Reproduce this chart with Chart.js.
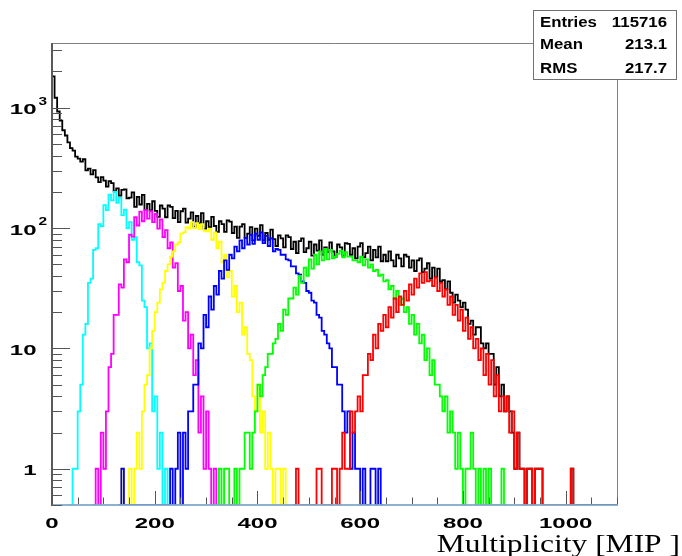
<!DOCTYPE html>
<html>
<head>
<meta charset="utf-8">
<script src="https://cdn.jsdelivr.net/npm/chart.js@4.4.0/dist/chart.umd.min.js"></script>
<style>
  html, body { margin: 0; padding: 0; background: #ffffff; }
  #wrap { width: 682px; height: 556px; }
</style>
</head>
<body>
<div id="wrap"><canvas id="c" width="682" height="556"></canvas></div>
<script>
// Bin width of every histogram, in MIP
const BIN = 5;
const X_MIN = 0, X_MAX = 1100;
const Y_MIN = 0.5, Y_MAX = 3450;

// Axis labels
const xTickValues = [0, 200, 400, 600, 800, 1000];
const yTickValues = [1, 10, 100, 1000];
const yTickBase = ['1', '10', '10', '10'];
const yTickExp = ['', '', '2', '3'];
const axisTitle = 'Multiplicity [MIP ]';

// Statistics box
const statsLabels = ['Entries', 'Mean', 'RMS'];
const statsValues = ['115716', '213.1', '217.7'];

// All events, bins from 0 to 1100
const totalStart = 0;
const total = [
  1820,1210,930,780,650,588,515,462,440,392,378,356,373,302,312,279,303,264,241,265,
  248,221,246,236,202,214,186,208,210,177,179,198,150,182,157,189,141,159,140,167,
  139,124,154,145,123,154,150,121,139,112,138,145,111,120,135,103,126,110,133,99,
  114,102,124,104,93,114,108,93,116,113,91,103,83,103,108,83,90,102,79,99,
  86,106,79,91,80,97,81,71,87,82,69,87,84,67,77,62,78,82,63,68,
  77,59,73,65,79,60,69,63,76,64,58,73,69,59,75,74,60,68,56,70,
  75,57,62,70,54,66,57,70,53,60,53,64,54,48,60,56,48,60,58,47,
  54,44,54,56,43,46,51,38,47,39,46,36,37,31,36,29,24,28,25,22,
  24,21,16,17,13,15,15,11,10,11,9,9,5,7,4,5,3,4,3,2,
  1,2,1,1,0,1,1,0,1,1,1,0,0,0,0,0,0,0,0,0,
  0,0,1,0,0,0,0,0,0,0,0,0,0,0,0,0,0,0,0,0
];

// Event classes
const cyanStart = 35;
const cyan = [
  0,1,1,3,5,13,16,35,38,66,68,108,104,155,141,190,170,200,162,178,
  128,142,100,112,80,84,52,49,25,22,10,11,3,4,1,2,0,1,0
];
const magentaStart = 80;
const magenta = [
  0,1,0,2,1,3,7,9,19,19,34,32,55,52,88,85,123,105,137,114,
  141,120,138,112,131,99,118,84,96,68,76,47,51,30,33,17,20,10,13,6,
  8,2,4,1,3,1,0,1,0
];
const yellowStart = 130;
const yellow = [
  0,1,0,0,1,0,1,2,1,3,5,6,10,14,20,24,31,35,44,50,
  58,64,73,76,90,92,102,99,112,100,110,98,108,95,94,99,80,92,68,77,
  52,60,39,44,27,33,20,24,13,15,9,8,4,3,5,2,3,1,2,1,
  0,1,1,0,1,0
];
const blueStart = 130;
const blue = [
  0,1,0,0,0,0,0,0,0,0,0,0,0,0,0,0,0,0,0,0,
  1,0,1,2,0,2,1,3,3,5,5,11,10,19,15,27,21,33,28,44,
  38,54,45,60,56,70,64,79,68,83,73,88,74,90,80,92,75,86,71,82,
  64,67,66,60,60,55,54,48,48,42,41,36,35,30,29,25,24,19,18,14,
  13,11,10,7,7,5,5,3,2,3,1,2,1,1,0,1,0,0,1,1,
  0,1,0
];
const greenStart = 320;
const green = [
  0,1,0,1,1,0,0,1,0,1,1,2,2,1,2,3,5,4,6,7,
  9,9,11,12,16,14,21,19,26,26,32,28,40,35,47,40,55,46,60,50,
  64,54,67,55,66,56,58,61,65,57,63,58,58,54,54,52,58,49,55,47,
  50,44,45,40,41,36,37,31,33,26,30,23,26,20,22,16,19,13,16,11,
  13,8,10,6,8,5,5,4,3,4,2,3,2,1,2,1,0,1,1,2,
  1,0,1,0,1,0,1,0,0,0,0,1,0
];
const redStart = 470;
const red = [
  0,1,0,0,0,0,0,0,0,1,1,0,0,0,0,1,1,0,1,2,
  1,1,3,2,3,4,3,6,6,9,8,13,10,16,14,19,15,22,18,26,
  20,27,23,30,25,34,28,38,32,42,35,43,36,37,33,39,30,35,27,31,
  23,27,19,23,17,21,14,18,12,15,10,12,8,10,6,9,5,8,4,6,
  3,4,3,4,2,3,1,2,1,1,0,1,1,0,1,1,1,0,0,0,
  0,0,0,0,0,0,0,0,1,0
];

// Histogram outline: one point per bin low edge, empty bins sit on the frame bottom
function histPoints(start, counts) {
  const pts = counts.map((c, i) => ({ x: start + i * BIN, y: c > 0 ? c : Y_MIN }));
  pts.push({ x: start + counts.length * BIN, y: Y_MIN });
  return pts;
}

function hist(counts, start, color) {
  return {
    data: histPoints(start, counts),
    borderColor: color,
    borderWidth: 1.8,
    stepped: 'before',
    pointRadius: 0,
    fill: false,
    tension: 0
  };
}

// Draw text stretched horizontally around an anchor
function stretchedText(ctx, text, x, y, sx, align) {
  ctx.save();
  ctx.translate(x, y);
  ctx.scale(sx, 1);
  ctx.textAlign = align;
  ctx.fillText(text, 0, 0);
  ctx.restore();
}

const LABEL_FONT = 'bold 15px "Liberation Sans", Arial, sans-serif';
const EXP_FONT = 'bold 11px "Liberation Sans", Arial, sans-serif';
const LABEL_STRETCH = 1.6;

const frameAxes = {
  id: 'frameAxes',
  afterDatasetsDraw(chart) {
    const { ctx, chartArea: a, scales: { x, y } } = chart;
    ctx.save();

    // top and right frame
    ctx.strokeStyle = '#808080';
    ctx.lineWidth = 1;
    ctx.beginPath();
    ctx.moveTo(a.left, a.top + 0.5);
    ctx.lineTo(a.right + 0.5, a.top + 0.5);
    ctx.lineTo(a.right + 0.5, a.bottom);
    ctx.stroke();

    // x axis line
    ctx.strokeStyle = 'rgba(128,168,204,0.9)';
    ctx.lineWidth = 2;
    ctx.beginPath();
    ctx.moveTo(a.left, a.bottom);
    ctx.lineTo(a.right + 1, a.bottom);
    ctx.stroke();

    // y axis line
    ctx.strokeStyle = '#5a5a5a';
    ctx.lineWidth = 2;
    ctx.beginPath();
    ctx.moveTo(a.left, a.top);
    ctx.lineTo(a.left, a.bottom + 1);
    ctx.stroke();

    // x ticks, pointing into the frame
    ctx.strokeStyle = '#555555';
    ctx.lineWidth = 1;
    ctx.beginPath();
    for (let v = X_MIN; v <= X_MAX; v += 50) {
      const px = Math.round(x.getPixelForValue(v)) + 0.5;
      const len = v % 200 === 0 ? 13 : 6.5;
      ctx.moveTo(px, a.bottom - 1);
      ctx.lineTo(px, a.bottom - 1 - len);
    }
    // y ticks on the log axis
    for (let d = 0.1; d <= 1000; d *= 10) {
      for (let m = 1; m <= 9; m++) {
        const v = m * d;
        if (v < Y_MIN * 0.999 || v > Y_MAX) continue;
        const py = Math.round(y.getPixelForValue(v)) + 0.5;
        const len = m === 1 ? 17 : 9;
        ctx.moveTo(a.left + 1, py);
        ctx.lineTo(a.left + 1 + len, py);
      }
    }
    ctx.stroke();

    // x labels
    ctx.fillStyle = '#000000';
    ctx.font = LABEL_FONT;
    ctx.textBaseline = 'alphabetic';
    xTickValues.forEach(v => {
      stretchedText(ctx, String(v), x.getPixelForValue(v), a.bottom + 22.5, LABEL_STRETCH, 'center');
    });

    // y labels, powers of ten with a raised exponent
    yTickValues.forEach((v, i) => {
      const py = y.getPixelForValue(v);
      ctx.font = LABEL_FONT;
      stretchedText(ctx, yTickBase[i], 36.5, py + 6.5, LABEL_STRETCH, 'right');
      if (yTickExp[i]) {
        ctx.font = EXP_FONT;
        stretchedText(ctx, yTickExp[i], 38.5, py - 3, 1.4, 'left');
      }
    });

    ctx.restore();
  },
  afterDraw(chart) {
    const { ctx } = chart;
    ctx.save();

    // statistics box
    ctx.fillStyle = '#ffffff';
    ctx.fillRect(533, 10, 144, 70);
    ctx.strokeStyle = '#707070';
    ctx.lineWidth = 1;
    ctx.strokeRect(533.5, 10.5, 143, 69);
    ctx.fillStyle = '#000000';
    ctx.font = 'bold 14px "Liberation Sans", Arial, sans-serif';
    ctx.textBaseline = 'alphabetic';
    const rows = [26.5, 48.5, 72.5];
    statsLabels.forEach((t, i) => {
      stretchedText(ctx, t, 540, rows[i], 1.2, 'left');
      stretchedText(ctx, statsValues[i], 667, rows[i], 1.2, 'right');
    });

    // axis title
    ctx.font = '25px "Liberation Serif", "Times New Roman", serif';
    stretchedText(ctx, axisTitle, 680, 551.5, 1.26, 'right');

    ctx.restore();
  }
};

new Chart(document.getElementById('c'), {
  type: 'line',
  data: {
    datasets: [
      hist(red, redStart, '#ff0000'),
      hist(green, greenStart, '#00ff00'),
      hist(blue, blueStart, '#0000ff'),
      hist(yellow, yellowStart, '#ffff00'),
      hist(magenta, magentaStart, '#ff00ff'),
      hist(cyan, cyanStart, '#00ffff'),
      hist(total, totalStart, '#000000')
    ]
  },
  options: {
    responsive: false,
    animation: false,
    devicePixelRatio: 1,
    layout: { padding: { left: 0, top: 43, right: 65, bottom: 0 } },
    plugins: { legend: { display: false }, tooltip: { enabled: false } },
    scales: {
      x: {
        type: 'linear',
        min: X_MIN,
        max: X_MAX,
        grid: { display: false, drawTicks: false },
        border: { display: false },
        ticks: { display: false },
        afterFit(s) { s.height = 51; }
      },
      y: {
        type: 'logarithmic',
        min: Y_MIN,
        max: Y_MAX,
        grid: { display: false, drawTicks: false },
        border: { display: false },
        ticks: { display: false },
        afterFit(s) { s.width = 52; }
      }
    }
  },
  plugins: [frameAxes]
});
</script>
</body>
</html>
